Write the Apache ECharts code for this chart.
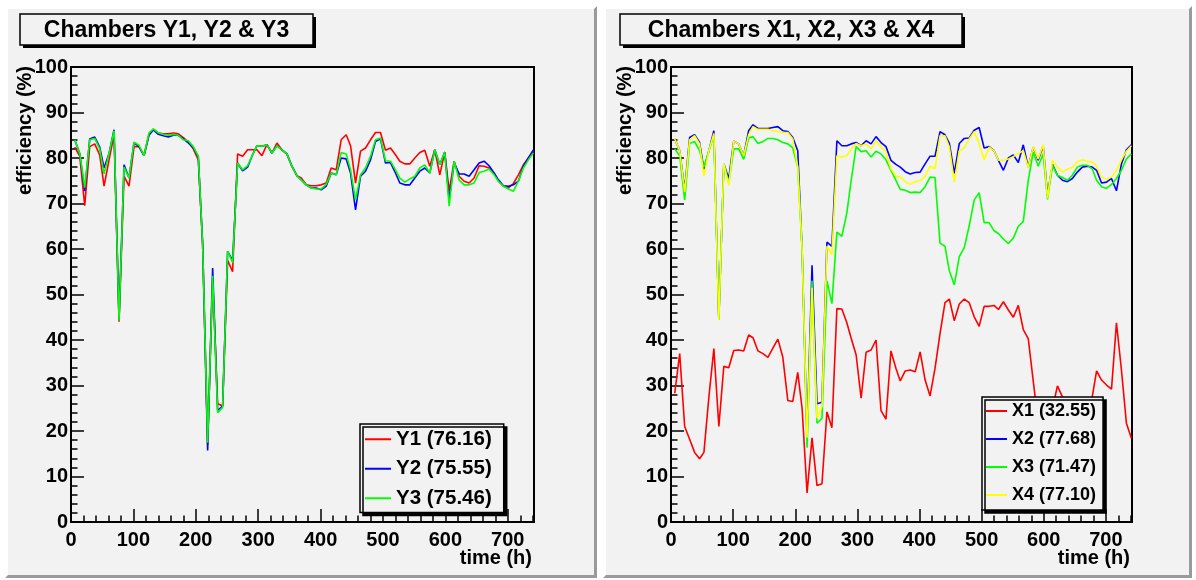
<!DOCTYPE html>
<html><head><meta charset="utf-8">
<script src="https://cdn.jsdelivr.net/npm/echarts@6/dist/echarts.min.js"></script>
<style>html,body{margin:0;padding:0;background:#ffffff}#c{width:1196px;height:580px}</style>
</head><body><div id="c"></div>
<script>
// ---- data (time in hours, efficiency in %) ----
const hours = [6,14,22,30,38,46,53,61,69,77, 85,93,101,109,117,125,132,140,148,156,
 164,172,180,188,196,204,211,219,227,235, 243,251,259,267,275,283,290,298,306,314,
 322,330,338,346,354,362,369,377,385,393, 401,409,417,425,433,441,448,456,464,472,
 480,488,496,504,512,520,527,535,543,551, 559,567,575,583,591,599,606,614,622,630,
 638,646,654,662,670,678,685,693,701,709, 717,725,733,741];

const Y1 = [82.4,80.4,69.5,82.5,83.1,80.7,73.8,79.6,85.1,44.0,
 76.0,73.8,82.5,82.5,80.5,85.3,86.3,85.5,85.3,85.3,
 85.5,85.3,84.5,83.5,82.0,79.6,61.0,17.0,53.5,26.0,
 25.5,57.5,55.0,80.9,80.4,81.8,81.8,81.8,80.5,83.0,
 81.1,83.3,81.8,80.9,78.2,76.1,75.6,74.1,73.9,73.9,
 74.1,74.5,77.8,77.4,84.0,85.1,82.7,74.5,81.5,82.2,
 84.0,85.6,85.6,81.7,82.2,80.7,79.3,78.7,78.7,80.0,
 81.2,81.7,78.2,81.8,76.3,81.3,72.7,79.3,76.0,74.9,
 74.5,75.6,78.3,78.2,77.8,76.7,74.9,73.8,73.4,74.4,
 76.3,78.5,80.0,81.5];
const Y2 = [84.0,81.0,72.7,84.2,84.6,82.4,77.8,81.0,86.2,44.5,
 78.5,75.6,83.4,82.5,80.5,85.0,86.2,85.2,84.9,84.6,
 85.0,85.0,84.2,83.3,82.3,80.3,61.0,15.7,55.8,24.5,
 25.5,59.5,57.5,78.9,77.2,78.0,80.4,82.7,82.6,82.9,
 81.1,82.7,81.8,80.9,78.2,76.1,75.2,74.1,73.4,73.4,
 73.0,73.8,76.7,76.3,80.0,79.8,76.7,68.6,76.0,77.1,
 79.6,83.6,84.2,78.9,79.0,76.7,74.5,74.1,74.1,75.6,
 77.1,77.8,76.7,81.8,78.5,81.3,70.8,78.9,76.5,76.5,
 76.0,77.4,78.9,79.3,78.3,76.7,75.2,73.9,73.8,74.1,
 74.9,78.2,80.0,81.8];
const Y3 = [84.0,81.0,73.5,84.0,84.3,82.0,76.5,81.0,86.0,44.3,
 78.0,75.6,83.5,82.8,80.5,85.5,86.4,85.5,85.2,85.0,
 85.2,85.0,84.0,83.8,82.5,80.4,61.0,17.4,54.1,24.0,
 25.2,59.5,57.0,78.9,77.4,78.3,80.4,82.7,82.6,82.9,
 81.1,82.7,81.8,80.9,78.2,76.1,75.2,74.1,73.4,73.2,
 73.2,74.2,76.7,76.3,81.2,80.9,77.4,70.8,76.3,77.8,
 80.4,84.0,84.4,79.4,79.3,77.4,75.6,74.7,75.4,76.0,
 77.8,78.5,76.7,81.8,78.5,81.3,69.4,79.3,75.2,74.1,
 74.1,74.5,76.8,77.1,77.6,76.3,74.9,73.8,73.2,72.7,
 74.9,77.8,79.6,81.1];

const X1 = [28.3,37.0,21.0,18.2,15.3,13.9,15.3,27.5,38.1,21.0,
 34.2,33.9,37.7,37.8,37.6,41.1,40.5,37.6,37.0,36.2,
 38.2,40.2,36.2,26.7,26.5,32.9,25.0,6.4,18.5,8.0,
 8.4,24.2,20.7,46.9,46.8,43.8,40.4,36.7,27.2,37.3,
 37.8,40.0,24.5,22.6,37.6,33.8,31.0,33.2,33.4,33.0,
 37.4,31.2,27.7,33.8,41.4,48.2,49.0,44.2,47.9,49.0,
 48.2,45.1,43.0,47.4,47.4,47.6,46.7,48.4,46.6,45.0,
 47.6,42.3,40.3,31.0,22.0,24.0,20.0,25.0,29.9,27.5,
 22.0,24.0,20.0,23.0,21.0,27.5,33.2,31.2,30.1,29.2,
 43.8,33.4,21.7,18.4];
const X2 = [84.2,81.6,73.0,84.5,85.1,83.4,77.5,81.6,86.0,44.5,
 78.7,75.5,83.7,83.1,80.5,86.0,87.3,86.5,86.5,86.5,
 86.7,86.9,86.0,85.8,84.5,81.6,60.0,19.0,56.4,26.0,
 26.3,61.5,60.6,83.8,82.7,82.7,83.1,83.4,82.7,83.8,
 83.1,84.7,83.4,82.5,79.5,78.6,78.0,77.0,76.5,76.8,
 76.9,78.7,80.4,80.4,85.8,85.1,83.2,76.6,83.2,84.3,
 84.4,86.1,86.7,82.2,82.5,81.6,79.5,77.3,80.0,80.7,
 79.0,82.9,78.0,82.4,79.5,82.7,71.9,78.6,76.2,75.1,
 74.8,75.5,76.9,78.0,78.2,78.0,77.3,74.5,74.7,75.5,
 72.8,78.7,81.8,82.9];
const X3 = [82.0,80.5,70.8,83.2,83.6,81.6,78.0,81.6,84.9,44.4,
 78.7,74.5,82.0,82.0,79.7,84.4,84.7,83.2,83.6,84.3,
 84.3,84.0,83.4,83.1,82.2,78.0,60.0,16.3,53.0,21.7,
 22.8,53.0,48.0,63.7,62.8,67.9,75.1,82.5,81.4,81.6,
 80.2,81.5,80.9,79.6,77.3,75.1,73.1,72.9,72.4,72.5,
 72.4,73.7,75.8,75.7,61.3,60.6,55.2,52.1,58.3,60.3,
 65.1,70.8,72.4,65.8,65.8,64.0,63.4,62.2,61.2,62.4,
 65.0,66.0,75.1,81.3,78.2,80.9,70.9,78.4,76.2,75.7,
 75.1,76.2,78.0,78.4,78.4,77.6,75.1,73.7,73.3,74.2,
 75.5,77.3,79.8,80.9];
const X4 = [84.2,81.6,72.5,84.0,84.9,83.1,76.0,81.6,85.4,44.4,
 78.7,74.0,83.7,83.1,80.5,85.1,86.9,86.3,86.3,86.3,
 86.0,85.8,85.6,85.6,84.2,78.0,60.0,18.5,51.5,22.8,
 25.4,60.6,58.8,80.5,80.2,80.5,82.0,83.2,82.7,83.1,
 82.0,83.8,82.5,81.3,77.6,76.0,75.8,74.8,74.2,74.8,
 75.0,76.0,78.2,77.6,84.9,84.9,82.4,74.7,81.6,82.2,
 84.2,85.8,83.1,79.6,82.4,81.6,79.5,79.5,79.8,80.3,
 81.0,81.6,77.9,82.5,79.8,82.9,71.1,79.5,78.0,76.9,
 77.6,77.9,79.2,79.6,79.3,79.1,78.2,75.8,75.3,75.8,
 77.3,79.6,81.5,82.7];

const leftNames  = ['Y1 (76.16)','Y2 (75.55)','Y3 (75.46)'];
const rightNames = ['X1 (32.55)','X2 (77.68)','X3 (71.47)','X4 (77.10)'];
const titles = ['Chambers Y1, Y2 & Y3','Chambers X1, X2, X3 & X4'];
const xTitle = 'time (h)';
const yTitle = 'efficiency (%)';

// ---- styling ----
const FONT = '"Liberation Sans", Arial, Helvetica, sans-serif';
const BG = '#f2f2f2';
const COLORS = {R:'#ff0000', B:'#0000ff', G:'#00ff00', Yel:'#ffff00'};
const X_MAX = 742;

const chart = echarts.init(document.getElementById('c'), null, {renderer:'canvas'});

const grids = [
  {left:71, top:67, width:463, height:455},
  {left:671, top:67, width:461, height:455}
].map(g => Object.assign(g, {show:true, backgroundColor:BG, borderColor:'#000', borderWidth:2, containLabel:false, outerBoundsMode:'none'}));

const tickLabel = {color:'#000', fontFamily:FONT, fontWeight:'bold', fontSize:20};
const xAxes = [], yAxes = [];
[0,1].forEach(g => {
  xAxes.push({gridIndex:g, type:'value', min:0, max:X_MAX, interval:100, position:'bottom',
    axisLine:{show:true, onZero:false, lineStyle:{color:'#000', width:2}},
    axisTick:{show:true, inside:true, length:13, lineStyle:{color:'#000', width:1.5}},
    axisLabel:Object.assign({margin:8, showMaxLabel:false}, tickLabel),
    splitLine:{show:false}});
  xAxes.push({gridIndex:g, type:'value', min:0, max:X_MAX, interval:20, position:'bottom',
    axisLine:{show:false}, axisLabel:{show:false}, splitLine:{show:false},
    axisTick:{show:true, inside:true, length:6.5, lineStyle:{color:'#000', width:1.5}}});
  yAxes.push({gridIndex:g, type:'value', min:0, max:100, interval:10, position:'left',
    axisLine:{show:true, onZero:false, lineStyle:{color:'#000', width:2}},
    axisTick:{show:true, inside:true, length:13, lineStyle:{color:'#000', width:1.5}},
    minorTick:{show:true, splitNumber:5, length:6.5, lineStyle:{color:'#000', width:1.5}},
    axisLabel:Object.assign({margin:3}, tickLabel),
    splitLine:{show:false}, minorSplitLine:{show:false}});
});

function mk(name, vals, color, g) {
  return {name, type:'line', xAxisIndex:g*2, yAxisIndex:g,
    data: hours.map((t,i)=>[t, vals[i]]),
    symbol:'none', showSymbol:false, clip:true,
    lineStyle:{color, width:1.6}, itemStyle:{color}, animation:false};
}
const series = [
  mk(leftNames[0], Y1, COLORS.R, 0),
  mk(leftNames[1], Y2, COLORS.B, 0),
  mk(leftNames[2], Y3, COLORS.G, 0),
  mk(rightNames[0], X1, COLORS.R, 1),
  mk(rightNames[1], X2, COLORS.B, 1),
  mk(rightNames[2], X3, COLORS.G, 1),
  mk(rightNames[3], X4, COLORS.Yel, 1)
];

function legendCfg(names, left, top, fs, iw, gap, pad) {
  return {data:names, orient:'vertical', left, top, selectedMode:false,
    backgroundColor:BG, borderColor:'#000', borderWidth:1.5,
    shadowColor:'#000', shadowOffsetX:3, shadowOffsetY:3, shadowBlur:0,
    padding:pad, itemGap:gap, itemWidth:iw, itemHeight:2, icon:'rect',
    textStyle:{fontFamily:FONT, fontWeight:'bold', fontSize:fs, color:'#000', lineHeight:fs+2}};
}
const legends = [
  legendCfg(leftNames, 360, 424, 20.5, 26, 7, [4,12,3,5]),
  legendCfg(rightNames, 982, 397, 18, 21, 8, [4,7,5,4])
];

// pads with raised bevel, title boxes, axis titles
function pad(x, y, w, h, b) {
  return [
    {type:'rect', z:-10, silent:true, shape:{x, y, width:w, height:h}, style:{fill:'#9a9a9a'}},
    {type:'polygon', z:-9, silent:true, shape:{points:[[x,y],[x+w,y],[x+w-b,y+b],[x+b,y+b],[x+b,y+h-b],[x,y+h]]}, style:{fill:'#ffffff'}},
    {type:'rect', z:-8, silent:true, shape:{x:x+b, y:y+b, width:w-2*b, height:h-2*b}, style:{fill:BG}}
  ];
}
function titleBox(x, y, w, h, text) {
  return [
    {type:'rect', z:20, silent:true, shape:{x:x+3, y:y+3, width:w, height:h}, style:{fill:'#000'}},
    {type:'rect', z:21, silent:true, shape:{x, y, width:w, height:h}, style:{fill:BG, stroke:'#000', lineWidth:1.5}},
    {type:'text', z:22, silent:true, x:x+w/2, y:y+h/2+1, style:{text, font:'bold 23px '+FONT, fill:'#000', align:'center', verticalAlign:'middle'}}
  ];
}
function axisTitles(gx, gw, gy, gh, yx) {
  return [
    {type:'text', z:22, silent:true, x:gx+gw-2, y:gy+gh+36, style:{text:xTitle, font:'bold 20px '+FONT, fill:'#000', align:'right', verticalAlign:'middle'}},
    {type:'text', z:22, silent:true, x:yx, y:gy-1, rotation:Math.PI/2, style:{text:yTitle, font:'bold 20px '+FONT, fill:'#000', align:'right', verticalAlign:'middle'}}
  ];
}
const graphics = [].concat(
  pad(5, 6, 592, 572, 3), pad(603, 6, 589, 572, 3),
  titleBox(20, 14, 293, 31, titles[0]), titleBox(620, 14, 342, 31, titles[1]),
  axisTitles(71, 463, 67, 455, 25), axisTitles(671, 461, 67, 455, 625)
);

chart.setOption({
  animation:false,
  backgroundColor:'#ffffff',
  grid:grids, xAxis:xAxes, yAxis:yAxes, series, legend:legends,
  graphic:{elements:graphics}
});
</script></body></html>
